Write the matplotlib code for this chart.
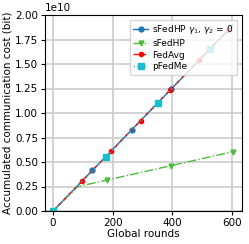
import numpy as np
import matplotlib.pyplot as plt

# 数据：全局轮次与累计通信开销 (bit)
rounds_hp0 = [0, 132, 264, 396, 528, 604]
cost_hp0 = [0, 4.14e9, 8.29e9, 12.43e9, 16.58e9, 18.97e9]

rounds_hp = [0, 82, 181, 395, 603]
cost_hp = [0, 2.48e9, 3.16e9, 4.62e9, 6.05e9]

rounds_avg = [0, 98, 196, 294, 392, 490, 588, 604]
cost_avg = [0, 3.08e9, 6.15e9, 9.23e9, 12.31e9, 15.39e9, 18.46e9, 18.97e9]

rounds_me = [0, 176, 352, 528, 604]
cost_me = [0, 5.53e9, 11.05e9, 16.58e9, 18.97e9]

plt.rcParams['font.size'] = 7.5

fig = plt.figure(figsize=(2.49, 2.44), dpi=100)
ax = fig.add_axes([45 / 249, 1 - 211 / 244, 197 / 249, 196 / 244])

ax.plot(rounds_hp0, cost_hp0, 'o-', color='tab:blue', markersize=3.5, linewidth=1,
        markevery=[0, 1, 2, 3, 4], label=r'sFedHP $\gamma_1$, $\gamma_2$ = 0')
ax.plot(rounds_hp, cost_hp, 'v-.', color='#4cbb3c', markersize=3.5, linewidth=1,
        markevery=[0, 2, 3, 4], label='sFedHP')
ax.plot(rounds_avg, cost_avg, 'o--', color='red', markersize=3, linewidth=1,
        markevery=[1, 2, 3, 4, 5, 6], label='FedAvg')
ax.plot(rounds_me, cost_me, 's:', color='#17becf', markersize=4, linewidth=1,
        markevery=[0, 1, 2, 3], label='pFedMe')

ax.set_xlim(-27, 634)
ax.set_ylim(0, 2e10)
ax.set_xticks([0, 200, 400, 600])
ax.set_xlabel('Global rounds', labelpad=1)
ax.set_ylabel('Accumulated communication cost (bit)', labelpad=2)
ax.grid(True, color='#cccccc', linewidth=1.2)
ax.tick_params(length=3, pad=2)
ax.legend(loc='upper right', fontsize=6.5, handlelength=1.6, borderpad=0.4,
          labelspacing=0.3, handletextpad=0.5)

plt.savefig('out.png', dpi=100)
